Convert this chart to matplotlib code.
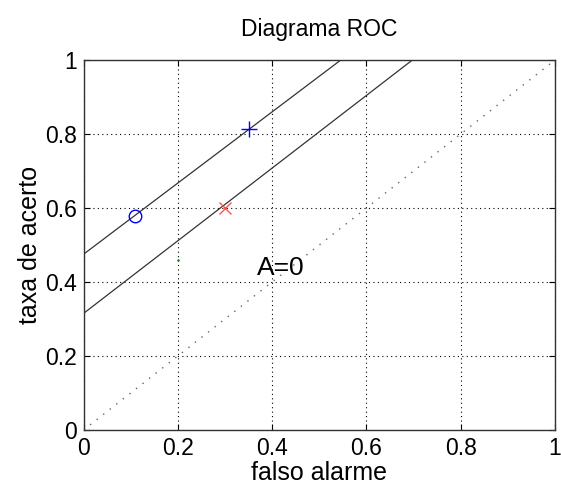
import matplotlib
matplotlib.use("Agg")
import matplotlib.pyplot as plt
import numpy as np

plt.rcParams['font.family'] = ['Liberation Sans', 'DejaVu Sans']

# Iso-performance lines: (intercept, slope)
line_intercepts = [0.475, 0.315]
line_slopes = [0.962, 0.982]

# Operating points
circle_pt = (0.11, 0.578)
plus_pt = (0.35, 0.813)
cross_pt = (0.30, 0.60)
green_pt = (0.20, 0.46)

ticks = [0, 0.2, 0.4, 0.6, 0.8, 1]
tick_labels = ['0', '0.2', '0.4', '0.6', '0.8', '1']

fig = plt.figure(figsize=(5.61, 4.95), dpi=100)
ax = fig.add_axes([83.5 / 561, 1 - 430 / 495, (555 - 83.5) / 561, (430 - 60) / 495])

xs = np.array([0.0, 1.0])
for b, m in zip(line_intercepts, line_slopes):
    ax.plot(xs, b + m * xs, color='#333333', lw=0.9)

# chance diagonal
ax.plot([0, 1], [0, 1], color='#666666', lw=1.0, linestyle=(0, (1, 5)))

ax.plot(*circle_pt, marker='o', ms=9, mfc='none', mec='blue', mew=1.0)
ax.plot(*plus_pt, marker='+', ms=11, color='blue', mew=1.0)
ax.plot(*cross_pt, marker='x', ms=9, color='#ff5050', mew=1.0)
ax.plot(*green_pt, marker='.', ms=1.5, color='green')

ax.text(0.368, 0.418, 'A=0', fontsize=19, ha='left', va='baseline')

ax.set_xlim(0, 1)
ax.set_ylim(0, 1)
ax.set_xticks(ticks)
ax.set_xticklabels(tick_labels)
ax.set_yticks(ticks)
ax.set_yticklabels(tick_labels)
ax.grid(True, color='black', linestyle=(0, (1, 3)), lw=0.8)
ax.tick_params(direction='in', top=True, right=True, length=4, labelsize=16.5, pad=5)
for s in ax.spines.values():
    s.set_linewidth(1.0)
    s.set_color('#333333')

ax.set_xlabel('falso alarme', fontsize=18, labelpad=1)
ax.set_ylabel('taxa de acerto', fontsize=18, labelpad=2)
ax.set_title('Diagrama ROC', fontsize=16.5, pad=17)

fig.savefig('out.png', dpi=100)
